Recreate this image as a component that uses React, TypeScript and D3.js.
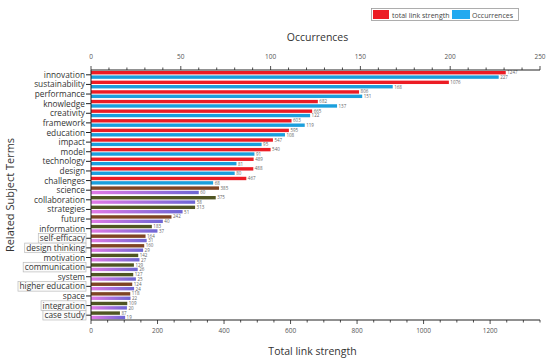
import React from "react";
import * as d3 from "d3";

const categories = [
  "innovation", "sustainability", "performance", "knowledge", "creativity",
  "framework", "education", "impact", "model", "technology", "design",
  "challenges", "science", "collaboration", "strategies", "future",
  "information", "self-efficacy", "design thinking", "motivation",
  "communication", "system", "higher education", "space", "integration",
  "case study",
];
const totalLinkStrength = [
  1247, 1076, 806, 682, 665, 603, 595, 547, 540, 489, 488, 467, 385, 375,
  313, 242, 183, 164, 160, 142, 129, 127, 124, 118, 109, 87,
];
const occurrences = [
  227, 168, 151, 137, 122, 119, 108, 95, 91, 81, 80, 68, 60, 58, 51, 40,
  37, 31, 29, 27, 26, 25, 24, 22, 20, 19,
];
const bottomTicks = [0, 200, 400, 600, 800, 1000, 1200];
const topTicks = [0, 50, 100, 150, 200, 250];
const boxedLabels = ["self-efficacy", "design thinking", "communication", "higher education", "integration", "case study"];
const oliveRows = ["strategies", "information", "motivation", "communication", "system", "integration", "case study", "collaboration"];

const FONT = "'Open Sans', 'Lato', sans-serif";
const LABEL_SIZE = 8.3;
const RED = "#ec1c24";
const BLUE = "#1b9fdc";
const BROWN = "#7e4424";
const OLIVE = "#4f5522";

function measure(text: string, size: number): number {
  try {
    const cv = document.createElement("canvas");
    const ctx = cv.getContext("2d");
    if (ctx) {
      ctx.font = `${size}px 'Open Sans', sans-serif`;
      return ctx.measureText(text).width;
    }
  } catch (e) {}
  return text.length * size * 0.52;
}

export default function App() {
  const W = 550, H = 361;
  const left = 91, right = 540, top = 70, bottom = 320;
  const xB = d3.scaleLinear().domain([0, 1350]).range([left, right]);
  const xT = d3.scaleLinear().domain([0, 250]).range([left, right]);
  const y = d3.scaleBand().domain(categories).range([top, bottom]).padding(0);
  const bh = 3.4;
  const minorB = d3.range(0, 1351, 50);
  const minorT = d3.range(0, 251, 10);

  return (
    <svg width={W} height={H} style={{ position: "absolute", left: 0, top: 0, background: "#fff" }} fontFamily={FONT}>
      <defs>
        <linearGradient id="occGrad" x1="0" x2="1" y1="0" y2="0">
          <stop offset="0" stopColor="#e27ae6" />
          <stop offset="1" stopColor="#6d66d4" />
        </linearGradient>
      </defs>
      {/* legend */}
      <rect x={371.5} y={8.5} width={147} height={12} fill="#fff" stroke="#999" strokeWidth={0.8} />
      <rect x={373} y={10} width={16} height={9} fill={RED} />
      <text x={392} y={17.5} fontSize={7} fill="#444">total link strength</text>
      <rect x={452} y={10} width={18} height={9} fill="#22a9f0" />
      <text x={472} y={17.5} fontSize={7} fill="#444">Occurrences</text>

      {/* titles */}
      <text x={(left + right) / 2 + 2} y={41} fontSize={10.5} textAnchor="middle" fill="#333">Occurrences</text>
      <text x={(left + right) / 2 - 3} y={355} fontSize={10.5} textAnchor="middle" fill="#333">Total link strength</text>
      <text transform={`translate(14,${(top + bottom) / 2}) rotate(-90)`} fontSize={11} textAnchor="middle" fill="#333">Related Subject Terms</text>

      {/* bars */}
      {categories.map((c, i) => {
        const y0 = (y(c) as number) + y.bandwidth() / 2;
        const upper = i < 12;
        const tlsColor = upper ? RED : oliveRows.includes(c) ? OLIVE : BROWN;
        const occFill = upper ? BLUE : "url(#occGrad)";
        const xe1 = xB(totalLinkStrength[i]);
        const xe2 = xT(occurrences[i]);
        return (
          <g key={c}>
            <rect x={left} y={y0 - bh - 0.4} width={xe1 - left} height={bh} fill={tlsColor} />
            <rect x={left} y={y0 + 0.6} width={xe2 - left} height={bh} fill={occFill} />
            <text x={xe1 + 1.5} y={y0 - 0.6} fontSize={4.5} fill="#666">{totalLinkStrength[i]}</text>
            <text x={xe2 + 1.5} y={y0 + 4.2} fontSize={4.5} fill="#666">{occurrences[i]}</text>
          </g>
        );
      })}

      {/* left axis */}
      <line x1={left} x2={left} y1={top} y2={bottom} stroke="#222" strokeWidth={1} />
      {categories.map((c) => {
        const yc = (y(c) as number) + y.bandwidth() / 2;
        const boxed = boxedLabels.includes(c);
        const tw = measure(c, LABEL_SIZE);
        return (
          <g key={"l" + c}>
            <line x1={left - 5} x2={left} y1={yc} y2={yc} stroke="#222" strokeWidth={1} />
            {boxed && (
              <rect
                x={left - 6 - tw - 1.5}
                y={yc - 4.8}
                width={tw + 2.5}
                height={9.6}
                fill="#fbfbfb"
                stroke="#bbb"
                strokeWidth={0.7}
              />
            )}
            <text x={left - 6} y={yc + 3} fontSize={LABEL_SIZE} textAnchor="end" fill="#333">{c}</text>
          </g>
        );
      })}

      {/* bottom axis */}
      <line x1={left} x2={right} y1={bottom} y2={bottom} stroke="#222" strokeWidth={1} />
      {minorB.map((t) => (
        <line key={"mb" + t} x1={xB(t)} x2={xB(t)} y1={bottom} y2={bottom + (t % 200 === 0 ? 4 : 2.5)} stroke="#222" strokeWidth={0.8} />
      ))}
      {bottomTicks.map((t) => (
        <text key={"bt" + t} x={xB(t)} y={333} fontSize={6.5} textAnchor="middle" fill="#555">{t}</text>
      ))}

      {/* top axis */}
      <line x1={left} x2={right} y1={top} y2={top} stroke="#222" strokeWidth={1} />
      {minorT.map((t) => (
        <line key={"mt" + t} x1={xT(t)} x2={xT(t)} y1={top} y2={top - (t % 50 === 0 ? 4 : 2.5)} stroke="#222" strokeWidth={0.8} />
      ))}
      {topTicks.map((t) => (
        <text key={"tt" + t} x={xT(t)} y={59} fontSize={6.5} textAnchor="middle" fill="#555">{t}</text>
      ))}
    </svg>
  );
}
